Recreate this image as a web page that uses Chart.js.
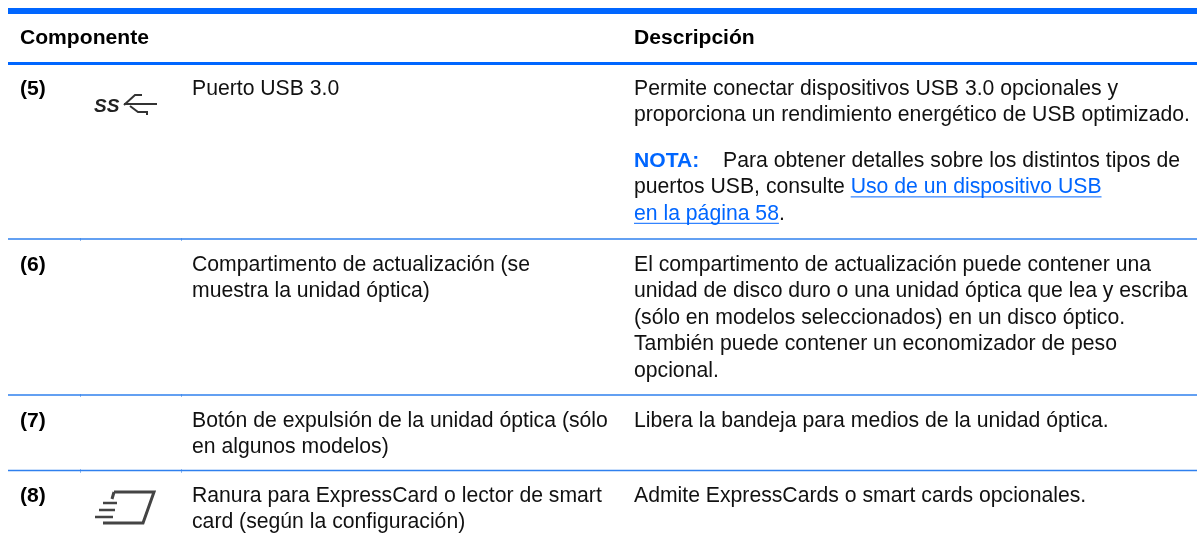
<!DOCTYPE html>
<html><head><meta charset="utf-8">
<style>html,body{margin:0;padding:0;background:#fff}canvas{display:block}</style>
<script src="https://cdn.jsdelivr.net/npm/chart.js@4/dist/chart.umd.min.js"></script>
</head><body><canvas id="c" width="1197" height="548"></canvas>
<script>
const headers = ["Componente", "Descripción"];
const rowIds = ["(5)", "(6)", "(7)", "(8)"];
const components = [
  ["Puerto USB 3.0"],
  ["Compartimento de actualización (se", "muestra la unidad óptica)"],
  ["Botón de expulsión de la unidad óptica (sólo", "en algunos modelos)"],
  ["Ranura para ExpressCard o lector de smart", "card (según la configuración)"]
];
const descriptions = [
  ["Permite conectar dispositivos USB 3.0 opcionales y", "proporciona un rendimiento energético de USB optimizado."],
  ["El compartimento de actualización puede contener una", "unidad de disco duro o una unidad óptica que lea y escriba", "(sólo en modelos seleccionados) en un disco óptico.", "También puede contener un economizador de peso", "opcional."],
  ["Libera la bandeja para medios de la unidad óptica."],
  ["Admite ExpressCards o smart cards opcionales."]
];
const noteLabel = "NOTA:";
const noteLines = ["Para obtener detalles sobre los distintos tipos de", "puertos USB, consulte ", "Uso de un dispositivo USB", "en la página 58", "."];

const rowBaselines = [95, 271, 426.5, 502];
const ruleThick = [11, 63.5];
const ruleThin = [239, 395, 470.5];
const columnTicks = [80.5, 181.5];
const X = {id:20, comp:192, desc:634, end:1197, start:8};
const LH = 26.4;
const BLUE = "#0066ff", LINE = "#2f80ee", INK = "#111";
const SANS = '"Liberation Sans", Arial, sans-serif';

const rule = (y, w, col) => ({data:[{x:X.start,y},{x:X.end,y}], showLine:true, pointRadius:0, borderColor:col, borderWidth:w, borderCapStyle:'butt', parsing:false});
const tick = (x, y) => ({data:[{x,y:y-1},{x,y:y+2}], showLine:true, pointRadius:0, borderColor:'#8fb8f0', borderWidth:1, parsing:false});
const datasets = [
  ...ruleThick.map((y,i)=>rule(y, i===0?6:3, BLUE)),
  ...ruleThin.map(y=>rule(y, 1.3, LINE)),
  ...ruleThin.flatMap(y=>columnTicks.map(x=>tick(x,y)))
];

const tablePlugin = {
  id:'tableText',
  afterDraw(chart){
    const c = chart.ctx, xs = chart.scales.x, ys = chart.scales.y;
    const t = (s,x,y,font,col)=>{c.font=font;c.fillStyle=col;c.fillText(s,xs.getPixelForValue(x),ys.getPixelForValue(y));return c.measureText(s).width;};
    c.save();
    c.textBaseline='alphabetic'; c.textAlign='left';
    const R='21.2px '+SANS, B='bold 21.1px '+SANS;
    t(headers[0],X.id,44,B,'#000');
    t(headers[1],X.desc,44,B,'#000');
    rowIds.forEach((s,i)=>{
      t(s,X.id,rowBaselines[i],B,'#000');
      components[i].forEach((l,k)=>t(l,X.comp,rowBaselines[i]+k*LH,R,INK));
      descriptions[i].forEach((l,k)=>t(l,X.desc,rowBaselines[i]+k*LH,R,INK));
    });
    const ny=167;
    t(noteLabel,X.desc,ny,B,BLUE);
    t(noteLines[0],723,ny,R,INK);
    const w1=t(noteLines[1],X.desc,ny+LH,R,INK);
    const w2=t(noteLines[2],X.desc+w1,ny+LH,R,BLUE);
    const w3=t(noteLines[3],X.desc,ny+2*LH,R,BLUE);
    t(noteLines[4],X.desc+w3,ny+2*LH,R,INK);
    c.strokeStyle=BLUE;c.lineWidth=1;c.beginPath();
    c.moveTo(X.desc+w1,ny+LH+3.5);c.lineTo(X.desc+w1+w2,ny+LH+3.5);
    c.moveTo(X.desc,ny+2*LH+3.5);c.lineTo(X.desc+w3,ny+2*LH+3.5);c.stroke();
    // icons are soft in the source
    c.filter='blur(0.5px)';
    // SS usb icon
    c.font='italic bold 19px '+SANS;c.fillStyle='#222';c.fillText('SS',94,112);
    c.strokeStyle='#333';c.lineWidth=2;c.beginPath();
    c.moveTo(124,105);c.lineTo(135,95);c.lineTo(142,95);
    c.moveTo(124,104);c.lineTo(157,104);
    c.moveTo(130,106);c.lineTo(138,112);c.lineTo(147,112);c.lineTo(147,115);c.stroke();
    // card icon
    c.strokeStyle='#444';c.lineWidth=3;c.beginPath();
    c.moveTo(114,492);c.lineTo(154,492);c.lineTo(143,523);c.lineTo(103,523);
    c.moveTo(114,492);c.lineTo(112,499);c.stroke();
    c.lineWidth=2.6;c.beginPath();
    c.moveTo(103,503);c.lineTo(117,503);c.moveTo(99,510);c.lineTo(115,510);c.moveTo(95,517);c.lineTo(113,517);c.stroke();
    c.filter='none';
    c.restore();
  }
};

new Chart(document.getElementById('c'),{
  type:'scatter',
  data:{datasets},
  options:{responsive:false,animation:false,
    layout:{padding:0},
    plugins:{legend:{display:false},tooltip:{enabled:false}},
    scales:{
      x:{type:'linear',min:0,max:1197,display:false},
      y:{type:'linear',min:0,max:548,reverse:true,display:false}
    }},
  plugins:[tablePlugin]
});
</script></body></html>
